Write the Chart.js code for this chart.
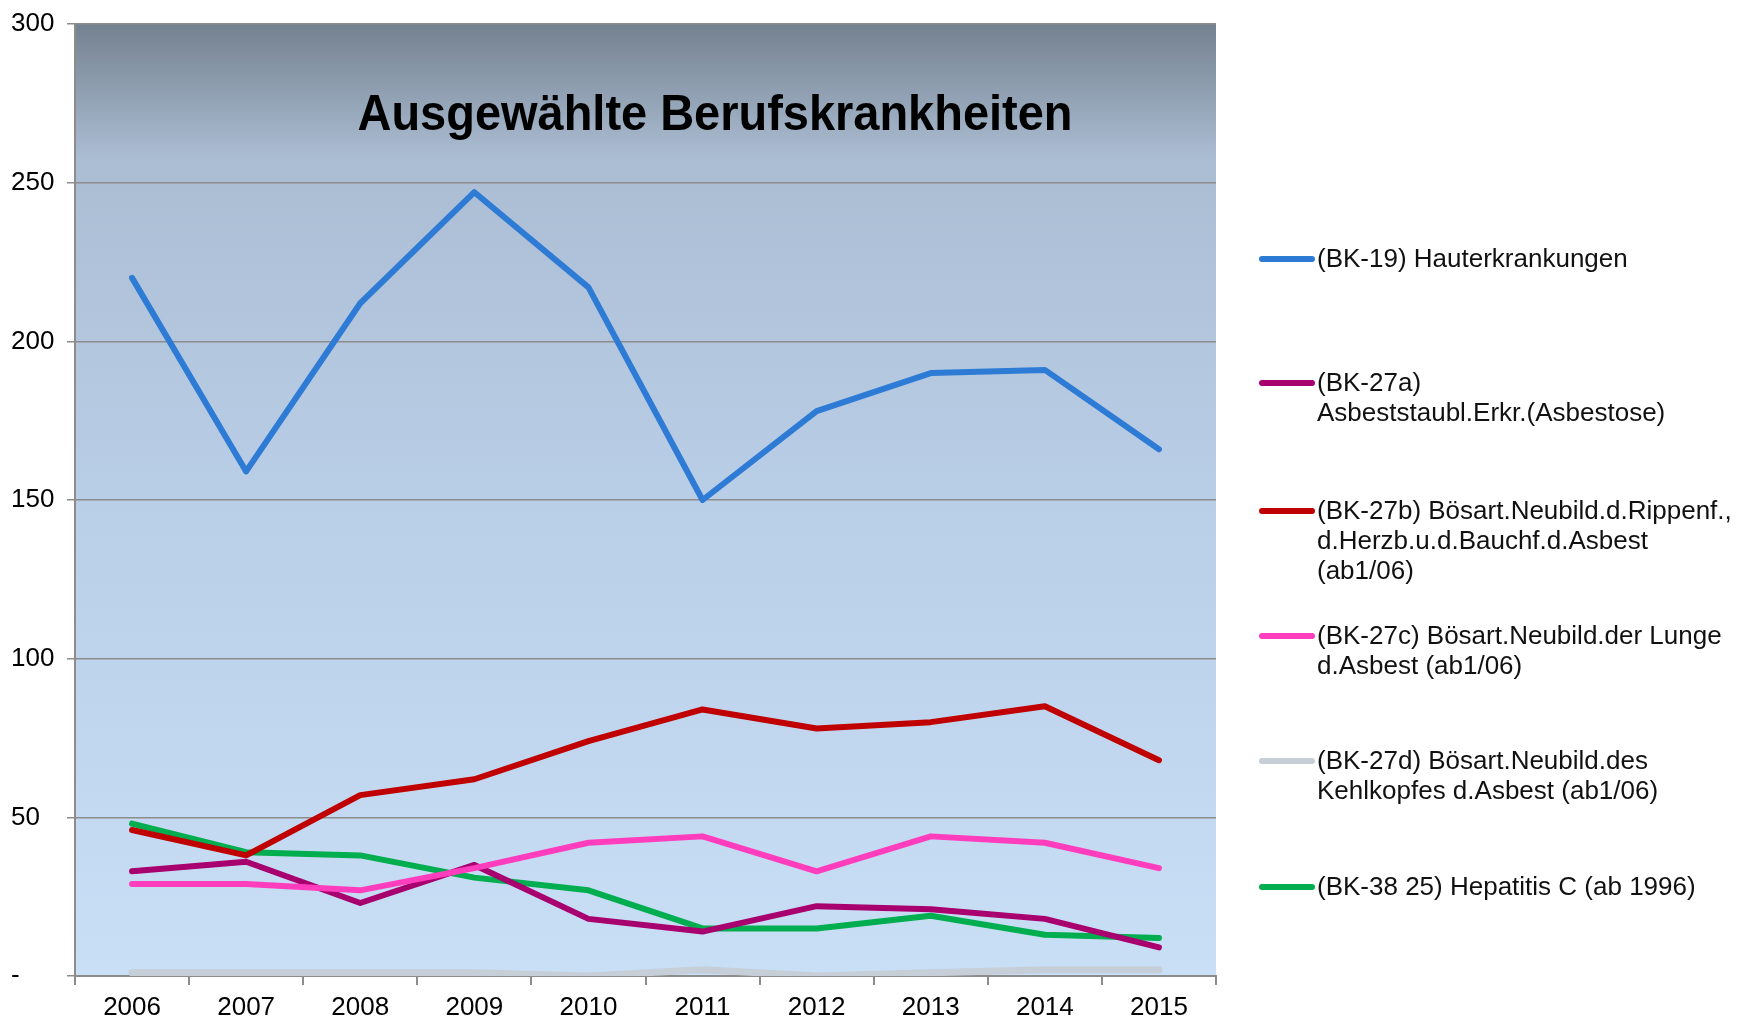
<!DOCTYPE html>
<html>
<head>
<meta charset="utf-8">
<script src="https://cdn.jsdelivr.net/npm/chart.js"></script>
<style>
  html, body { margin: 0; padding: 0; background: #fff; }
  #wrap { position: relative; width: 1737px; height: 1018px; }
  #legend { position: absolute; left: 1259px; top: 0; font-family: "Liberation Sans", Arial, sans-serif; font-size: 26px; color: #111; }
  .item { position: absolute; left: 0; white-space: nowrap; }
  .swatch { position: absolute; left: 0; top: 13px; width: 56px; height: 6px; border-radius: 3px; }
  .txt { position: absolute; left: 58px; top: 0; line-height: 30px; }
</style>
</head>
<body>
<div id="wrap">
  <canvas id="c" width="1737" height="1018"></canvas>
  <div id="legend"></div>
</div>
<script>
const years = ["2006", "2007", "2008", "2009", "2010", "2011", "2012", "2013", "2014", "2015"];
const yTicks = [0, 50, 100, 150, 200, 250, 300];

const seriesNames = [
  ["(BK-19) Hauterkrankungen"],
  ["(BK-27a)", "Asbeststaubl.Erkr.(Asbestose)"],
  ["(BK-27b) Bösart.Neubild.d.Rippenf.,", "d.Herzb.u.d.Bauchf.d.Asbest", "(ab1/06)"],
  ["(BK-27c) Bösart.Neubild.der Lunge", "d.Asbest (ab1/06)"],
  ["(BK-27d) Bösart.Neubild.des", "Kehlkopfes d.Asbest (ab1/06)"],
  ["(BK-38 25) Hepatitis C (ab 1996)"]
];
const haut = [220, 159, 212, 247, 217, 150, 178, 190, 191, 166];
const bk27a = [33, 36, 23, 35, 18, 14, 22, 21, 18, 9];
const bk27b = [46, 38, 57, 62, 74, 84, 78, 80, 85, 68];
const bk27c = [29, 29, 27, 34, 42, 44, 33, 44, 42, 34];
const bk27d = [1, 1, 1, 1, 0, 2, 0, 1, 2, 2];
const hepC = [48, 39, 38, 31, 27, 15, 15, 19, 13, 12];

const colors = ["#2e7bd6", "#a8006e", "#c00000", "#ff3dbd", "#c6ced8", "#00ad4f"];
const allValues = [haut, bk27a, bk27b, bk27c, bk27d, hepC];
const drawOrder = [1, 4, 3, 2, 6, 5];

const FONT = "'Liberation Sans', Arial, sans-serif";

const bgPlugin = {
  id: "bg",
  beforeDraw(chart) {
    const { ctx, chartArea: a } = chart;
    const g = ctx.createLinearGradient(0, a.top, 0, a.bottom);
    g.addColorStop(0, "#74818f");
    g.addColorStop(0.14, "#abbdd3");
    g.addColorStop(0.5, "#b9cee7");
    g.addColorStop(1, "#c9dff6");
    ctx.save();
    ctx.fillStyle = g;
    ctx.fillRect(a.left, a.top, a.right - a.left, a.bottom - a.top);
    ctx.restore();
  }
};

// title sits inside the plot area, slightly condensed
const titlePlugin = {
  id: "innerTitle",
  afterDraw(chart) {
    const { ctx } = chart;
    const text = "Ausgewählte Berufskrankheiten";
    ctx.save();
    ctx.font = "bold 50px " + FONT;
    const w = ctx.measureText(text).width;
    const sx = 715 / w;
    ctx.translate(715, 116);
    ctx.scale(sx, 1);
    ctx.fillStyle = "#000";
    ctx.textAlign = "center";
    ctx.textBaseline = "middle";
    ctx.fillText(text, 0, 0);
    ctx.restore();
  }
};

new Chart(document.getElementById("c"), {
  type: "line",
  data: {
    labels: years,
    datasets: allValues.map((v, i) => ({
      label: seriesNames[i].join(" "),
      data: v,
      borderColor: colors[i],
      backgroundColor: colors[i],
      borderWidth: i === 4 ? 7 : 6,
      pointRadius: 0,
      tension: 0,
      borderCapStyle: "round",
      borderJoinStyle: "round",
      order: drawOrder[i]
    }))
  },
  options: {
    responsive: false,
    animation: false,
    layout: { padding: { left: 11, top: 24, right: 521, bottom: 0 } },
    plugins: { legend: { display: false }, tooltip: { enabled: false }, title: { display: false } },
    scales: {
      x: {
        offset: true,
        afterFit(s) { s.height = 42; },
        grid: { display: true, drawOnChartArea: false, offset: true, color: "#8c8c8c", tickLength: 9, lineWidth: 2 },
        border: { color: "#8c8c8c", width: 2 },
        ticks: { color: "#000", font: { family: FONT, size: 26 }, padding: 7 }
      },
      y: {
        min: 0,
        max: 300,
        afterFit(s) { s.width = 64; },
        afterBuildTicks(s) { s.ticks = yTicks.map(v => ({ value: v })); },
        grid: { color: "#8c8c8c", lineWidth: 1.5, tickLength: 8 },
        border: { color: "#8c8c8c", width: 2 },
        ticks: {
          color: "#000",
          font: { family: FONT, size: 26 },
          crossAlign: "far",
          padding: 4,
          callback: v => (v === 0 ? "-" : String(v))
        }
      }
    }
  },
  plugins: [bgPlugin, titlePlugin]
});

// legend built from the same names and colours
const legendTops = [243, 367, 495, 620, 745, 871];
const legend = document.getElementById("legend");
seriesNames.forEach((lines, i) => {
  const item = document.createElement("div");
  item.className = "item";
  item.style.top = legendTops[i] + "px";
  const sw = document.createElement("div");
  sw.className = "swatch";
  sw.style.background = colors[i];
  const t = document.createElement("div");
  t.className = "txt";
  t.innerHTML = lines.join("<br>");
  item.appendChild(sw);
  item.appendChild(t);
  legend.appendChild(item);
});
</script>
</body>
</html>
